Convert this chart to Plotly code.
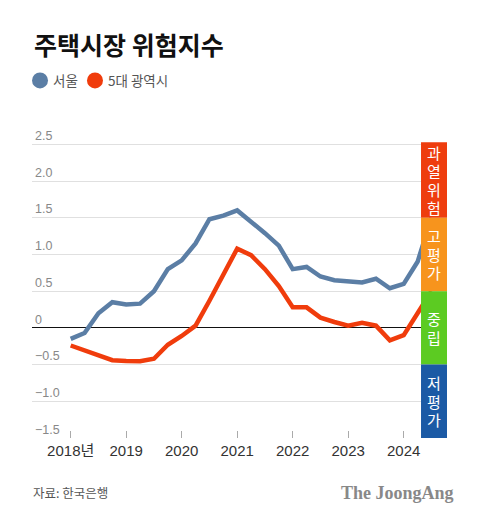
import plotly.graph_objects as go

# ---- data ----
quarters = ["2018Q1", "2018Q2", "2018Q3", "2018Q4",
            "2019Q1", "2019Q2", "2019Q3", "2019Q4",
            "2020Q1", "2020Q2", "2020Q3", "2020Q4",
            "2021Q1", "2021Q2", "2021Q3", "2021Q4",
            "2022Q1", "2022Q2", "2022Q3", "2022Q4",
            "2023Q1", "2023Q2", "2023Q3", "2023Q4",
            "2024Q1", "2024Q2", "2024Q3"]
seoul = [-0.15, -0.07, 0.20, 0.35, 0.32, 0.33, 0.50, 0.80, 0.92, 1.15, 1.48, 1.53, 1.60,
         1.45, 1.29, 1.12, 0.80, 0.83, 0.70, 0.65, 0.63, 0.62, 0.67, 0.54, 0.60, 0.90, 1.50]
metro = [-0.24, -0.31, -0.38, -0.44, -0.45, -0.455, -0.42, -0.23, -0.11, 0.03, 0.37, 0.73, 1.08,
         0.99, 0.80, 0.57, 0.28, 0.28, 0.14, 0.08, 0.03, 0.07, 0.03, -0.17, -0.10, 0.20, 0.50]
year_ticks = [2018, 2019, 2020, 2021, 2022, 2023, 2024]
year_labels = ["2018년", "2019", "2020", "2021", "2022", "2023", "2024"]
y_ticks = [2.5, 2.0, 1.5, 1.0, 0.5, 0, -0.5, -1.0, -1.5]
y_labels = ["2.5", "2.0", "1.5", "1.0", "0.5", "0", "−0.5", "−1.0", "−1.5"]
bands = [("과열위험", 1.5, 2.53, "#ee3d0e"),
         ("고평가", 0.5, 1.5, "#f7941d"),
         ("중립", -0.5, 0.5, "#5ccb22"),
         ("저평가", -1.5, -0.5, "#1b5aa5")]
series_names = ["서울", "5대 광역시"]
series_colors = ["#5b7ea5", "#f03c0c"]


def qpos(q):
    return int(q[:4]) + (int(q[5]) - 1) / 4.0


x = [qpos(q) for q in quarters]

KR = "Noto Sans CJK KR"
NUM = "Liberation Sans, Noto Sans CJK KR"

fig = go.Figure()
for name, vals, col in zip(series_names, [seoul, metro], series_colors):
    fig.add_trace(go.Scatter(x=x, y=vals, mode="lines", name=name,
                             line=dict(color=col, width=4.5), showlegend=False,
                             hoverinfo="skip"))

band_x0, band_x1 = 2024.312, 2024.78
char_step = 18.5
for label, y0, y1, col in bands:
    fig.add_shape(type="rect", xref="x", yref="y", x0=band_x0, x1=band_x1, y0=y0, y1=y1,
                  fillcolor=col, line_width=0, layer="above")
    n = len(label)
    for k, ch in enumerate(label):
        fig.add_annotation(x=(band_x0 + band_x1) / 2, y=(y0 + y1) / 2, xref="x", yref="y",
                           yshift=-(k - (n - 1) / 2) * char_step,
                           text=ch, showarrow=False,
                           font=dict(family=KR, size=15, color="white"))

fig.add_annotation(x=-0.001, y=1.2628, xref="paper", yref="paper", xanchor="left", yanchor="middle",
                   text="<b>주택시장 위험지수</b>", showarrow=False,
                   font=dict(family=KR, size=25, color="#111"))

# legend
leg_circle_x = [0.0193, 0.1518]
leg_text_x = [0.0458, 0.178]
for name, col, cx, tx in zip(series_names, series_colors, leg_circle_x, leg_text_x):
    fig.add_shape(type="circle", xref="paper", yref="paper", xsizemode="pixel", ysizemode="pixel",
                  xanchor=cx, yanchor=1.146, x0=-8, x1=8, y0=-8, y1=8,
                  fillcolor=col, line_width=0)
    fig.add_annotation(x=tx, y=1.146, xref="paper", yref="paper", xanchor="left", yanchor="middle",
                       text=name, showarrow=False, font=dict(family=KR, size=13.5, color="#555"))

fig.add_annotation(x=-0.002, y=-0.1751, xref="paper", yref="paper", xanchor="left", yanchor="middle",
                   text="자료: 한국은행", showarrow=False, font=dict(family=KR, size=12.5, color="#555"))
fig.add_annotation(x=1.022, y=-0.176, xref="paper", yref="paper", xanchor="right", yanchor="middle",
                   text="<b>The JoongAng</b>", showarrow=False,
                   font=dict(family="Liberation Serif", size=18, color="#888"))

# page has an 8px body margin, so the figure is 8px smaller on each axis
fig.update_layout(
    width=472, height=515,
    margin=dict(l=24, r=33, t=117.6, b=85, autoexpand=False),
    paper_bgcolor="white", plot_bgcolor="white",
    showlegend=False,
    xaxis=dict(range=[2017.303, 2024.78], tickvals=year_ticks, ticktext=year_labels,
               showgrid=False, zeroline=False, showline=False, automargin=False,
               ticks="inside", ticklen=7, tickcolor="#aaa", tickwidth=1, ticklabelstandoff=2,
               tickfont=dict(family=NUM, size=15, color="#333"), fixedrange=True),
    yaxis=dict(range=[-1.5, 2.75], tickvals=y_ticks, ticktext=y_labels,
               showgrid=True, gridcolor="#e0e0e0", gridwidth=1, automargin=False,
               zeroline=True, zerolinecolor="#111", zerolinewidth=1,
               ticklabelposition="inside top", ticks="",
               tickfont=dict(family=NUM, size=12.5, color="#888"), fixedrange=True),
)

fig.write_html("out.html")
